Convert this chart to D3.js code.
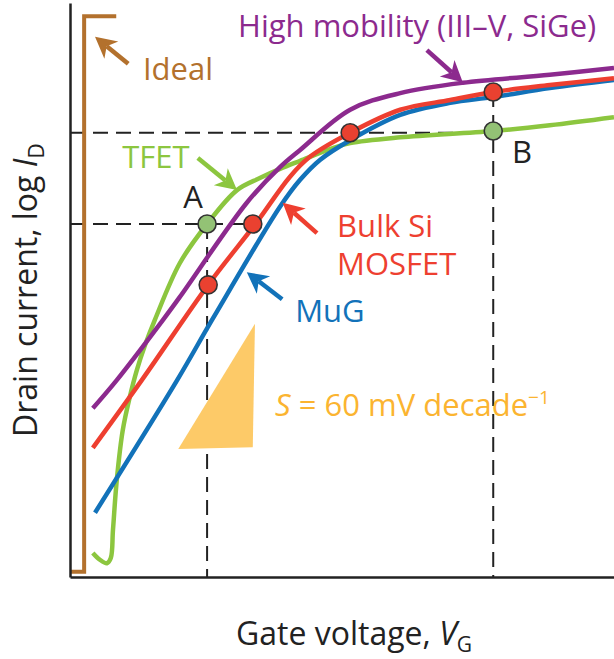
<!DOCTYPE html>
<html>
<head>
<meta charset="utf-8">
<script src="https://cdn.jsdelivr.net/npm/d3@7"></script>
<style>
  html, body { margin: 0; padding: 0; background: #fff; }
  svg { display: block; }
  text { font-family: "Open Sans", Lato, "Noto Sans", sans-serif; }
</style>
</head>
<body>
<svg id="chart" width="614" height="659"></svg>
<script>
// Gate voltage (V, schematic) and drain current (log10 decades, schematic)
const idealVG    = [0.000, 0.026, 0.026, 0.085];
const idealLogI  = [0.09,  0.09,  9.77,  9.77];

const highMobVG   = [0.042, 0.086, 0.171, 0.202, 0.325, 0.386, 0.423, 0.515, 0.607, 0.722, 0.882, 1.000];
const highMobLogI = [2.94,  3.43,  4.48,  4.88,  6.52,  7.14,  7.44,  8.14,  8.43,  8.61,  8.75,  8.87];

const bulkSiVG   = [0.042, 0.132, 0.254, 0.344, 0.404, 0.441, 0.515, 0.607, 0.699, 0.778, 0.882, 1.000];
const bulkSiLogI = [2.25,  3.43,  5.09,  6.19,  6.97,  7.32,  7.74,  8.14,  8.31,  8.45,  8.57,  8.69];

const mugVG   = [0.046, 0.197, 0.263, 0.386, 0.423, 0.460, 0.515, 0.607, 0.699, 0.778, 0.882, 1.000];
const mugLogI = [1.12,  3.43,  4.51,  6.45,  6.92,  7.27,  7.61,  8.05,  8.26,  8.36,  8.52,  8.66];

const tfetVG   = [0.042, 0.055, 0.068, 0.075, 0.079, 0.086, 0.097, 0.110, 0.123, 0.138, 0.156, 0.202, 0.252, 0.307, 0.349, 0.386, 0.423, 0.483, 0.515, 0.607, 0.778, 0.882, 1.000];
const tfetLogI = [0.42,  0.30,  0.24,  0.33,  0.82,  1.69,  2.56,  3.14,  3.61,  4.04,  4.48,  5.47,  6.15,  6.74,  6.95,  7.11,  7.25,  7.47,  7.56,  7.66,  7.77,  7.87,  8.01];

// Operating points: A (low-voltage crossing) and B (high-voltage on-state)
const pointVG    = [0.252, 0.336, 0.254, 0.515, 0.778, 0.778];
const pointLogI  = [6.15,  6.15,  5.09,  7.74,  8.45,  7.77];
const pointKind  = ["tfet", "mos", "mos", "mos", "mos", "tfet"];

// Guide lines (dashed)
const guideLevelA = 6.15, guideLevelB = 7.74;
const guideVG_A = 0.252, guideVG_B = 0.778;

// 60 mV/decade slope wedge
const wedgeVG   = [0.199, 0.340, 0.336];
const wedgeLogI = [2.23,  4.41,  2.26];

// Arrows: tail -> tip
const arrowNames = ["ideal", "tfet", "highMob", "bulkSi", "mug"];
const arrowTail  = [[0.107, 8.94], [0.235, 7.30], [0.656, 9.18], [0.454, 5.99], [0.390, 4.84]];
const arrowTip   = [[0.046, 9.41], [0.307, 6.74], [0.722, 8.62], [0.391, 6.52], [0.325, 5.31]];

const colors = {
  ideal: "#b3712d", highMob: "#8c2a8e", bulkSi: "#ee3f30",
  mug: "#1272b9", tfet: "#8cc63f", wedge: "#fdca68", slopeText: "#fbb430"
};

const svg = d3.select("#chart");
const plot = { left: 70, right: 614, top: 3, bottom: 577 };

const x = d3.scaleLinear().domain([0, 1]).range([plot.left, plot.right]);
const y = d3.scaleLinear().domain([0, 10]).range([plot.bottom, plot.top]);

const zip = (xs, ys) => xs.map((v, i) => [v, ys[i]]);
const smooth = d3.line().x(d => x(d[0])).y(d => y(d[1])).curve(d3.curveCatmullRom.alpha(0.5));
const straight = d3.line().x(d => x(d[0])).y(d => y(d[1]));

// Dashed guide lines
const dash = svg.append("g")
  .attr("stroke", "#222").attr("stroke-width", 2).attr("stroke-dasharray", "15,8").attr("fill", "none");
dash.append("path").attr("d", straight([[0, guideLevelB], [guideVG_B, guideLevelB]]));
dash.append("path").attr("d", straight([[0, guideLevelA], [0.336, guideLevelA]]));
dash.append("path").attr("d", straight([[guideVG_A, guideLevelA], [guideVG_A, 0]]));
dash.append("path").attr("d", straight([[guideVG_B, 8.45], [guideVG_B, 0]]));

// Slope wedge
svg.append("path")
  .attr("d", straight(zip(wedgeVG, wedgeLogI)) + "Z")
  .attr("fill", colors.wedge);

// Ideal switch
svg.append("path")
  .attr("d", straight(zip(idealVG, idealLogI)))
  .attr("fill", "none").attr("stroke", colors.ideal).attr("stroke-width", 4);

// Transfer curves
const curves = [
  { data: zip(tfetVG, tfetLogI), color: colors.tfet },
  { data: zip(mugVG, mugLogI), color: colors.mug },
  { data: zip(bulkSiVG, bulkSiLogI), color: colors.bulkSi },
  { data: zip(highMobVG, highMobLogI), color: colors.highMob }
];
svg.append("g").selectAll("path").data(curves).join("path")
  .attr("d", d => smooth(d.data))
  .attr("fill", "none").attr("stroke", d => d.color)
  .attr("stroke-width", 4.5).attr("stroke-linecap", "butt").attr("stroke-linejoin", "round");

// Axes (no ticks)
svg.append("g").attr("transform", `translate(${plot.left},0)`)
  .call(d3.axisLeft(y).ticks(0).tickSizeOuter(0))
  .call(g => g.select(".domain").attr("stroke", "#222").attr("stroke-width", 2.5));
svg.append("g").attr("transform", `translate(0,${plot.bottom})`)
  .call(d3.axisBottom(x).ticks(0).tickSizeOuter(0))
  .call(g => g.select(".domain").attr("stroke", "#222").attr("stroke-width", 2.5));

// Operating points
svg.append("g").selectAll("circle").data(zip(pointVG, pointLogI)).join("circle")
  .attr("cx", d => x(d[0])).attr("cy", d => y(d[1])).attr("r", 9)
  .attr("fill", (d, i) => pointKind[i] === "tfet" ? "#93c275" : "#ea4130")
  .attr("stroke", "#333").attr("stroke-width", 1.6);

// Arrows with notched heads
function arrow(tail, tip, color) {
  const x1 = x(tail[0]), y1 = y(tail[1]), x2 = x(tip[0]), y2 = y(tip[1]);
  const dx = x2 - x1, dy = y2 - y1, len = Math.hypot(dx, dy);
  const ux = dx / len, uy = dy / len, px = -uy, py = ux;
  const headLen = 21, headW = 11, notch = 6;
  const bx = x2 - ux * headLen, by = y2 - uy * headLen;
  const g = svg.append("g");
  g.append("line")
    .attr("x1", x1).attr("y1", y1)
    .attr("x2", bx + ux * notch).attr("y2", by + uy * notch)
    .attr("stroke", color).attr("stroke-width", 4.5);
  g.append("path")
    .attr("d", `M${x2},${y2} L${bx + px * headW},${by + py * headW} L${bx + ux * notch},${by + uy * notch} L${bx - px * headW},${by - py * headW} Z`)
    .attr("fill", color);
}
arrowNames.forEach((n, i) => arrow(arrowTail[i], arrowTip[i], colors[n]));

// Annotation text
const fs = 31;
function label(vg, logI, txt, color) {
  return svg.append("text").attr("x", x(vg)).attr("y", y(logI))
    .attr("font-size", fs).attr("fill", color).text(txt);
}
label(0.309, 9.40, "High mobility (III\u2013V, SiGe)", colors.highMob);
label(0.134, 8.66, "Ideal", colors.ideal);
label(0.096, 7.125, "TFET", colors.tfet);
label(0.208, 6.43, "A", "#222");
label(0.8125, 7.21, "B", "#222");
label(0.491, 5.92, "Bulk Si", colors.bulkSi);
label(0.491, 5.26, "MOSFET", colors.bulkSi);
label(0.414, 4.44, "MuG", colors.mug);

const slope = svg.append("text").attr("x", x(0.377)).attr("y", y(2.80))
  .attr("font-size", fs).attr("fill", colors.slopeText);
slope.append("tspan").attr("font-style", "italic").text("S");
slope.append("tspan").text(" = 60 mV decade");
slope.append("tspan").attr("font-size", 19).attr("dy", -12).text("\u22121");

// Axis titles
const xt = svg.append("text").attr("x", 236).attr("y", 645)
  .attr("font-size", 32).attr("fill", "#222");
xt.append("tspan").text("Gate voltage, ");
xt.append("tspan").attr("font-style", "italic").text("V");
xt.append("tspan").attr("font-size", 21).attr("dy", 7).text("G");

const yt = svg.append("text").attr("transform", "translate(37,437) rotate(-90)")
  .attr("font-size", 32).attr("fill", "#222");
yt.append("tspan").text("Drain current, log ");
yt.append("tspan").attr("font-style", "italic").text("I");
yt.append("tspan").attr("font-size", 21).attr("dy", 7).text("D");
</script>
</body>
</html>
